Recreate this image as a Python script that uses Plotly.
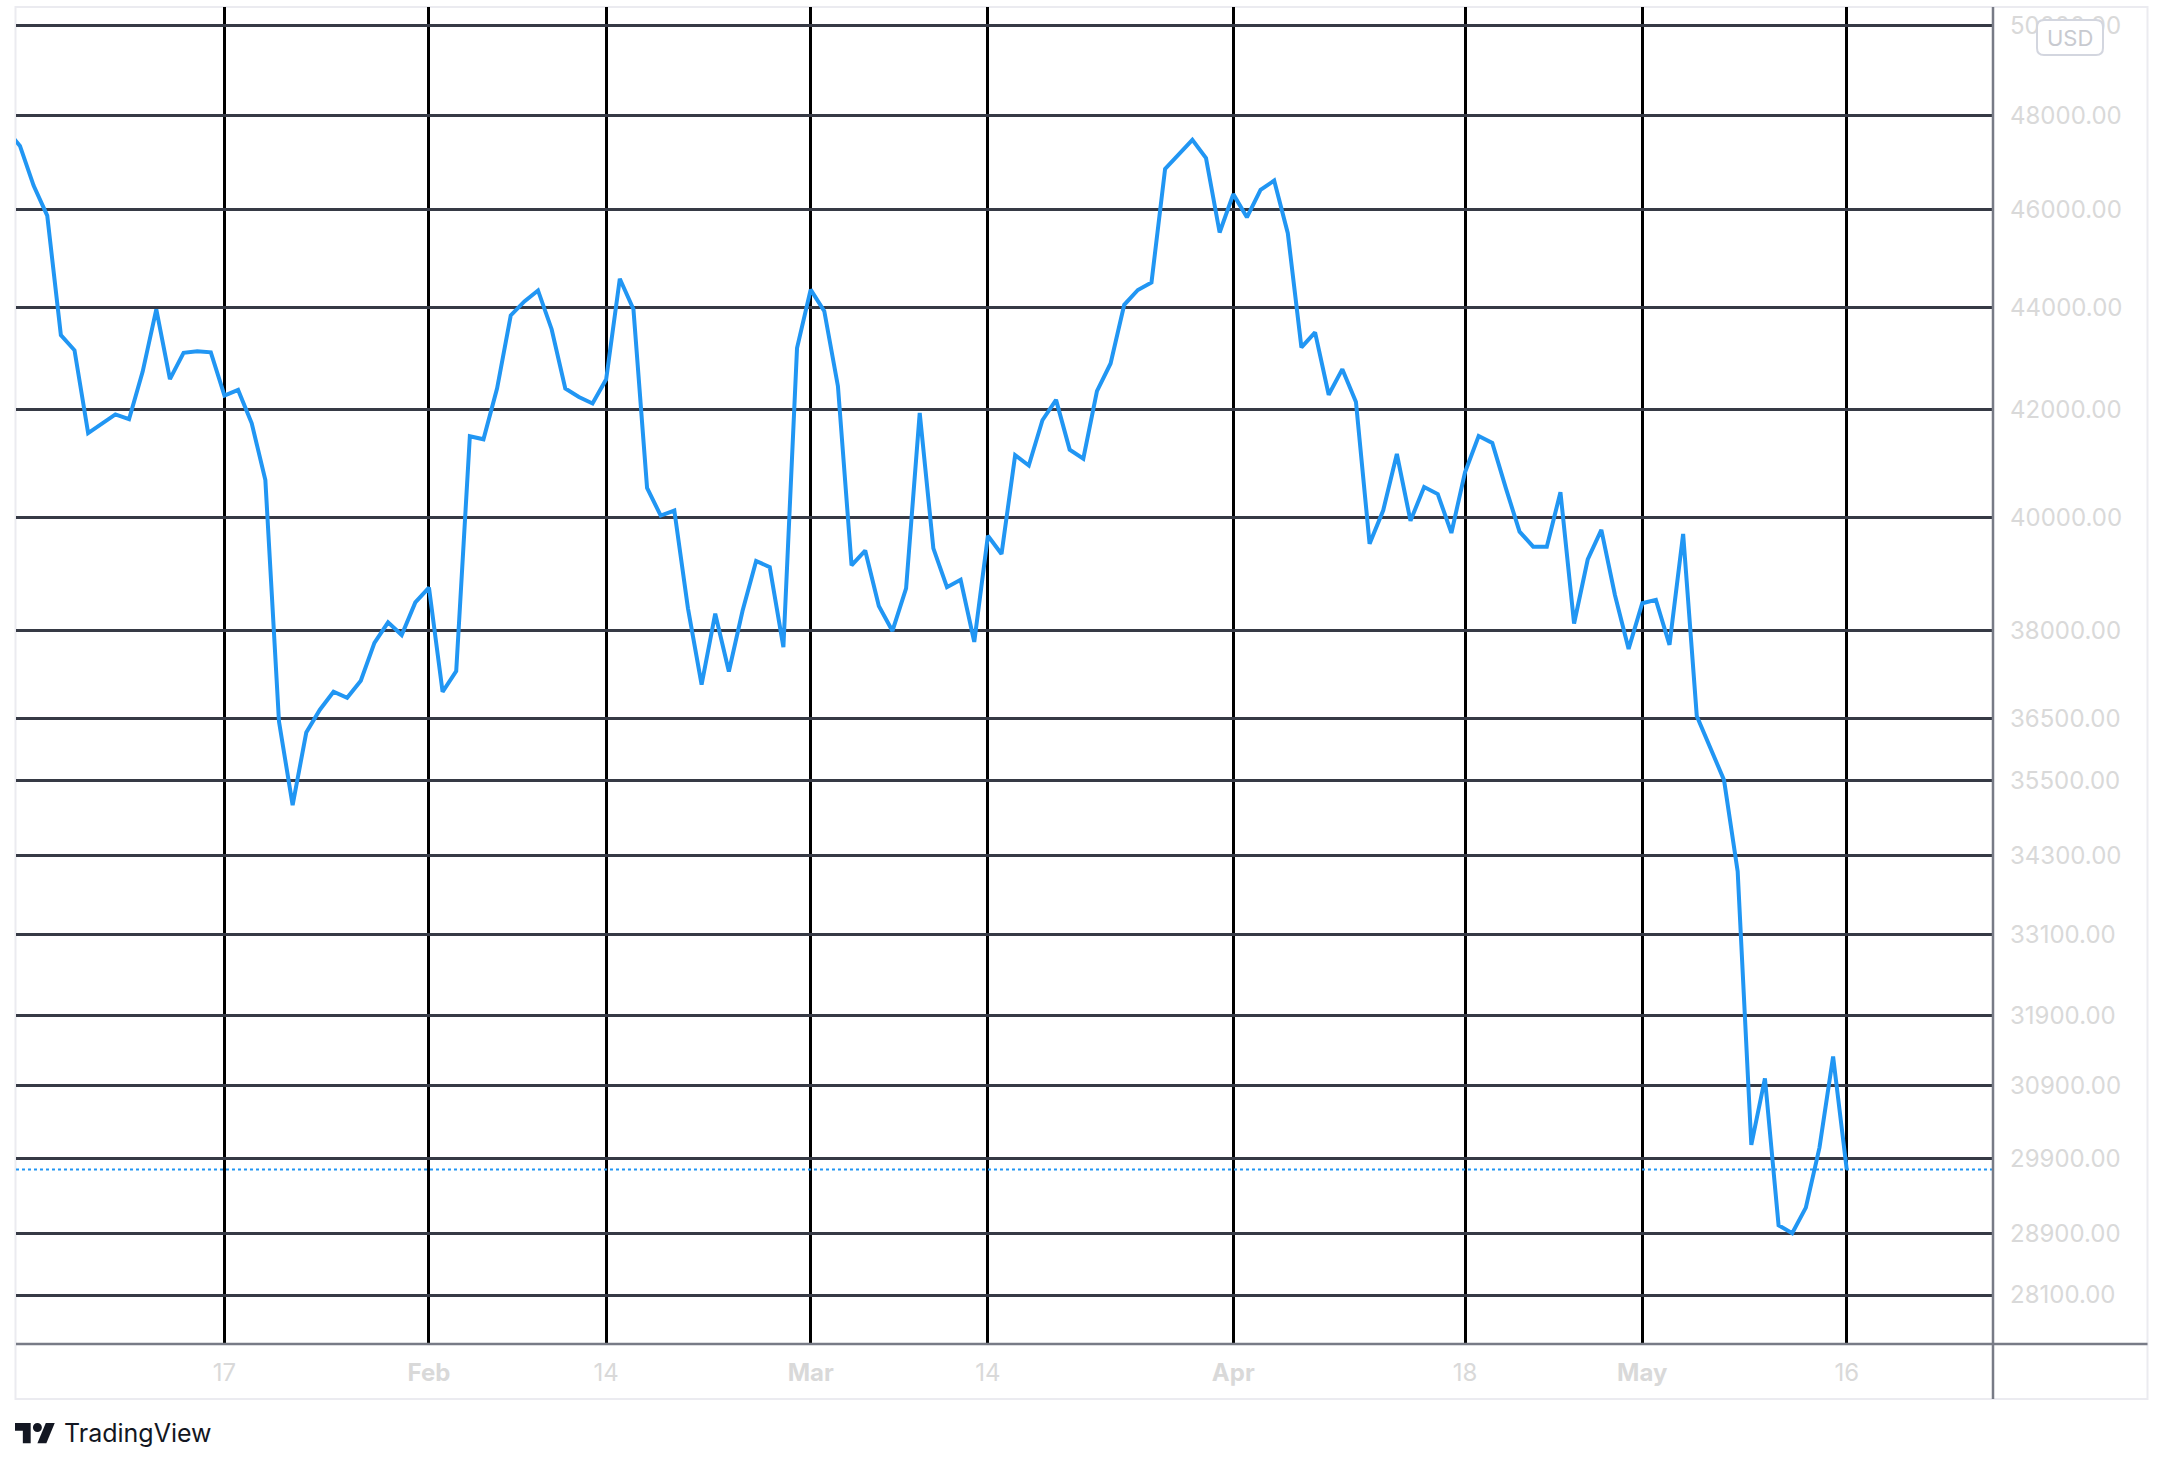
import math
import pandas as pd
import plotly.graph_objects as go

# ---------------- data (daily close, USD) ----------------
jan_close = [47700, 47345, 46500, 45870, 43450, 43150, 41557, 41733, 41911, 41821,
             42735, 43960, 42590, 43100, 43130, 43110, 42270, 42380, 41744, 40680,
             36457, 35100, 36276, 36654, 36954, 36852, 37138, 37784, 38138, 37917, 38483]
feb_close = [38743, 36952, 37300, 41500, 41441, 42412, 43840, 44118, 44338, 43565,
             42407, 42244, 42120, 42586, 44575, 43961, 40538, 40030, 40122, 38380,
             37075, 38286, 37296, 38332, 39214, 39105, 37710, 43194]
mar_close = [44354, 43924, 42452, 39137, 39400, 38420, 37988, 38730, 41941, 39440,
             38750, 38880, 37800, 39666, 39338, 41143, 40951, 41801, 42190, 41247,
             41077, 42358, 42892, 44050, 44348, 44500, 46854, 47153, 47475, 47083, 45520]
apr_close = [46320, 45835, 46410, 46606, 45507, 43206, 43503, 42287, 42782, 42150,
             39521, 40127, 41166, 39935, 40553, 40424, 39716, 40826, 41502, 41374,
             40527, 39740, 39470, 39469, 40458, 38117, 39241, 39773, 38609, 37680]
may_close = [38469, 38529, 37750, 39698, 36550, 36040, 35501, 34059, 30082, 31006,
             29005, 28900, 29239, 30046, 31313, 29750]

month_starts = ["2022-01-01", "2022-02-01", "2022-03-01", "2022-04-01", "2022-05-01"]
month_values = [jan_close, feb_close, mar_close, apr_close, may_close]

dates = []
prices = []
for start, vals in zip(month_starts, month_values):
    dates += list(pd.date_range(start, periods=len(vals), freq="D"))
    prices += vals

x_tick_dates = ["2022-01-17", "2022-02-01", "2022-02-14", "2022-03-01", "2022-03-14",
                "2022-04-01", "2022-04-18", "2022-05-01", "2022-05-16"]
x_tick_labels = ["17", "<b>Feb</b>", "14", "<b>Mar</b>", "14", "<b>Apr</b>", "18",
                 "<b>May</b>", "16"]
y_tick_values = [50000, 48000, 46000, 44000, 42000, 40000, 38000, 36500, 35500,
                 34300, 33100, 31900, 30900, 29900, 28900, 28100]
y_tick_labels = [f"{v:.2f}" for v in y_tick_values]

x_range = ["2022-01-01 17:00", "2022-05-26 17:30"]
y_range = [27483, 50427]
currency = "USD"
brand = "TradingView"

# ---------------- layout geometry (pixels) ----------------
W, H = 2168, 1469
L, R, T, B = 16, 1993, 7, 1344


def px(x):
    return (x - L) / (R - L)


def py(y):
    return (B - y) / (B - T)


LINE_BLUE = "#2196f3"
GRID_H = "#363a45"
GRID_V = "#000000"
AXIS_GREY = "#787b86"
LABEL_GREY = "#d9d9d9"
FONT = "Inter"

fig = go.Figure()

# last price dotted line
fig.add_trace(go.Scatter(
    x=x_range, y=[prices[-1], prices[-1]], mode="lines",
    line=dict(color=LINE_BLUE, width=2, dash="dot"),
    hoverinfo="skip", showlegend=False))

fig.add_trace(go.Scatter(
    x=dates, y=prices, mode="lines",
    line=dict(color=LINE_BLUE, width=4),
    hoverinfo="skip", showlegend=False))

shapes = []
# outer frame
shapes.append(dict(type="rect", xref="paper", yref="paper",
                   x0=px(15.5), x1=px(2147.5), y0=py(1399), y1=py(7),
                   line=dict(color="#ebebf0", width=2), fillcolor="rgba(0,0,0,0)",
                   layer="below"))
# price-scale border
shapes.append(dict(type="line", xref="paper", yref="paper",
                   x0=px(1993), x1=px(1993), y0=py(7), y1=py(1399),
                   line=dict(color=AXIS_GREY, width=2.5), layer="above"))
# time-scale border
shapes.append(dict(type="line", xref="paper", yref="paper",
                   x0=px(16), x1=px(2147.5), y0=py(1344), y1=py(1344),
                   line=dict(color=AXIS_GREY, width=2.5), layer="above"))


# USD badge (rounded rectangle)
def rounded_rect(x0, y0, x1, y1, r):
    pts = []
    pts.append(f"M {px(x0 + r)},{py(y0)}")
    pts.append(f"L {px(x1 - r)},{py(y0)}")
    pts.append(f"Q {px(x1)},{py(y0)} {px(x1)},{py(y0 + r)}")
    pts.append(f"L {px(x1)},{py(y1 - r)}")
    pts.append(f"Q {px(x1)},{py(y1)} {px(x1 - r)},{py(y1)}")
    pts.append(f"L {px(x0 + r)},{py(y1)}")
    pts.append(f"Q {px(x0)},{py(y1)} {px(x0)},{py(y1 - r)}")
    pts.append(f"L {px(x0)},{py(y0 + r)}")
    pts.append(f"Q {px(x0)},{py(y0)} {px(x0 + r)},{py(y0)}")
    pts.append("Z")
    return " ".join(pts)


shapes.append(dict(type="path", xref="paper", yref="paper",
                   path=rounded_rect(2037, 20, 2103, 55, 7),
                   fillcolor="white", line=dict(color="#d3d6df", width=2),
                   layer="above"))

# TradingView logo
s = 1.12
ox, oy = 15, 1423 - 4 * s


def poly(points):
    parts = []
    for i, (ux, uy) in enumerate(points):
        parts.append(("M " if i == 0 else "L ") + f"{px(ox + ux * s)},{py(oy + uy * s)}")
    return " ".join(parts) + " Z"


shapes.append(dict(type="path", xref="paper", yref="paper",
                   path=poly([(14, 22), (7, 22), (7, 11), (0, 11), (0, 4), (14, 4)]),
                   fillcolor="#131722", line=dict(width=0), layer="above"))
shapes.append(dict(type="path", xref="paper", yref="paper",
                   path=poly([(28, 22), (20, 22), (27.5, 4), (35.5, 4)]),
                   fillcolor="#131722", line=dict(width=0), layer="above"))
shapes.append(dict(type="circle", xref="paper", yref="paper",
                   x0=px(ox + 16 * s), x1=px(ox + 24 * s),
                   y0=py(oy + 12 * s), y1=py(oy + 4 * s),
                   fillcolor="#131722", line=dict(width=0), layer="above"))

annotations = [
    dict(text=currency, xref="paper", yref="paper", x=px(2070), y=py(38),
         xanchor="center", yanchor="middle", showarrow=False,
         font=dict(family=FONT, size=22, color="#c8cad0")),
    dict(text=brand, xref="paper", yref="paper", x=px(62), y=py(1433),
         xanchor="left", yanchor="middle", showarrow=False,
         font=dict(family=FONT, size=25, color="#131722")),
]

fig.update_layout(
    width=W, height=H,
    margin=dict(l=L, r=W - R, t=T, b=H - B, pad=0),
    paper_bgcolor="white", plot_bgcolor="white",
    showlegend=False, hovermode=False,
    font=dict(family=FONT, size=24, color=LABEL_GREY),
    shapes=shapes, annotations=annotations,
    xaxis=dict(type="date", range=x_range, tickvals=x_tick_dates, ticktext=x_tick_labels,
               showgrid=True, gridcolor=GRID_V, gridwidth=2.5, zeroline=False,
               showline=False, ticks="", ticklabelstandoff=12,
               tickfont=dict(family=FONT, size=24, color=LABEL_GREY), fixedrange=True),
    yaxis=dict(type="log", side="right", range=[math.log10(y_range[0]), math.log10(y_range[1])],
               tickvals=y_tick_values, ticktext=y_tick_labels,
               showgrid=True, gridcolor=GRID_H, gridwidth=2.5, zeroline=False,
               showline=False, ticks="", ticklabelstandoff=16,
               tickfont=dict(family=FONT, size=24, color=LABEL_GREY), fixedrange=True),
)

fig.write_html("out.html", config={"displayModeBar": False},
               post_script="document.body.style.margin='0';document.body.style.overflow='hidden';")
